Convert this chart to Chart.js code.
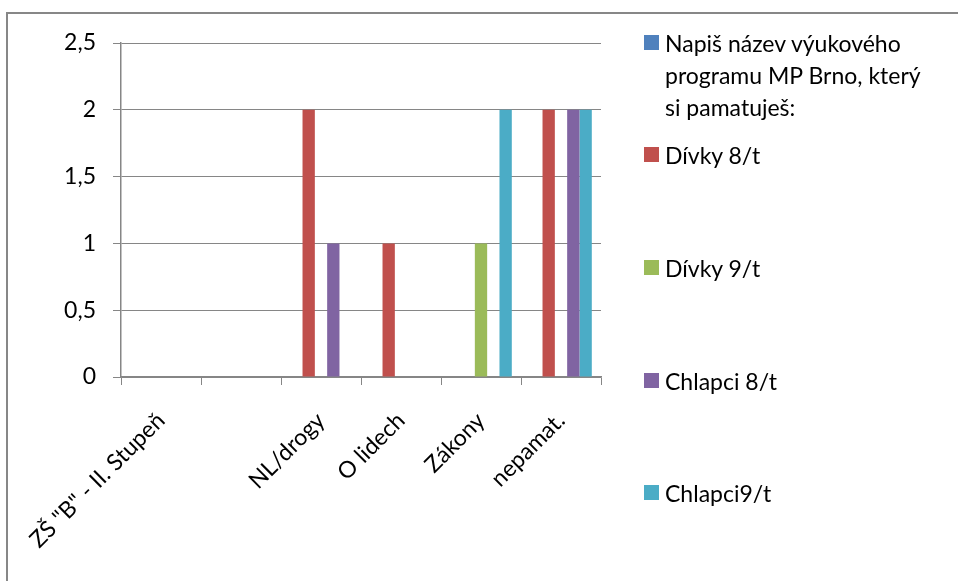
<!DOCTYPE html>
<html lang="cs">
<head>
  <meta charset="UTF-8" />
  <title>Výukové programy MP Brno</title>
  <style>
    * { margin: 0; padding: 0; box-sizing: border-box; }
    body {
      background: #ffffff;
      width: 958px;
      height: 581px;
      overflow: hidden;
      position: relative;
      font-family: 'Lato', 'Noto Sans', sans-serif;
      color: #000;
    }
    /* outer chart frame, only top and left edges are visible */
    .frame {
      position: absolute;
      left: 6px;
      top: 12px;
      width: 1000px;
      height: 640px;
      border-left: 2px solid #878787;
      border-top: 2px solid #878787;
    }
    .chart-box {
      position: absolute;
      left: 0;
      top: 0;
      width: 958px;
      height: 581px;
    }
    #legend {
      position: absolute;
      left: 644px;
      top: 0;
      width: 310px;
    }
    .legend-item {
      position: absolute;
      left: 0;
      display: flex;
      align-items: flex-start;
      font-size: 23px;
      line-height: 32px;
      white-space: normal;
    }
    .legend-item .box {
      width: 15px;
      height: 15px;
      margin-top: 8px;
      margin-right: 6px;
      flex: none;
    }
    .legend-item .txt { width: 262px; }
  </style>
</head>
<body>
  <div class="frame"></div>
  <div class="chart-box"><canvas id="chart" width="958" height="581"></canvas></div>
  <div id="legend"></div>

  <script src="https://cdn.jsdelivr.net/npm/chart.js"></script>
  <script>
    // categories (second one is empty in the source sheet)
    const categories = ['ZŠ "B" - II. Stupeň', '', 'NL/drogy', 'O lidech', 'Zákony', 'nepamat.'];

    const seriesNames = [
      'Napiš název výukového programu MP Brno, který si pamatuješ:',
      'Dívky 8/t',
      'Dívky 9/t',
      'Chlapci 8/t',
      'Chlapci9/t'
    ];
    const seriesColors = ['#4F81BD', '#C0504D', '#9BBB59', '#8064A2', '#4BACC6'];

    const napis     = [null, null, null, null, null, null];
    const divky8    = [null, null, 2, 1, null, 2];
    const divky9    = [null, null, null, null, 1, null];
    const chlapci8  = [null, null, 1, null, null, 2];
    const chlapci9  = [null, null, null, null, 2, 2];

    const yTickLabels = ['0', '0,5', '1', '1,5', '2', '2,5'];

    // legend entry tops (layout only)
    const legendTops = [27, 139, 252, 365, 477];

    const seriesValues = [napis, divky8, divky9, chlapci8, chlapci9];
    const gridColor = '#868686';
    const font = { family: "'Lato', 'Noto Sans', sans-serif", size: 23 };

    const datasets = seriesNames.map((name, i) => ({
      label: name,
      data: seriesValues[i],
      backgroundColor: seriesColors[i],
      borderWidth: 0,
      categoryPercentage: 0.77,
      barPercentage: 1.0
    }));

    new Chart(document.getElementById('chart').getContext('2d'), {
      type: 'bar',
      data: { labels: categories, datasets: datasets },
      options: {
        responsive: false,
        animation: false,
        events: [],
        layout: { padding: { top: 43, right: 357, left: 0, bottom: 0 } },
        plugins: {
          legend: { display: false },
          tooltip: { enabled: false }
        },
        scales: {
          x: {
            offset: true,
            grid: {
              offset: true,
              drawOnChartArea: false,
              drawTicks: true,
              tickLength: 8,
              color: gridColor,
              lineWidth: 1
            },
            border: { color: gridColor, width: 1.5 },
            ticks: {
              color: '#000',
              font: font,
              minRotation: 45,
              maxRotation: 45,
              autoSkip: false,
              padding: 22
            },
            afterFit: (scale) => { scale.height = 581 - 377; }
          },
          y: {
            min: 0,
            max: 2.5,
            ticks: {
              stepSize: 0.5,
              color: '#000',
              font: font,
              padding: 17,
              callback: (value, index) => yTickLabels[index]
            },
            grid: {
              color: gridColor,
              lineWidth: 1,
              tickLength: 8
            },
            border: { color: gridColor, width: 1.5 },
            afterFit: (scale) => { scale.width = 121; }
          }
        }
      }
    });

    // legend as real text on the right
    const legendEl = document.getElementById('legend');
    seriesNames.forEach((name, i) => {
      const item = document.createElement('div');
      item.className = 'legend-item';
      item.style.top = legendTops[i] + 'px';
      const box = document.createElement('span');
      box.className = 'box';
      box.style.background = seriesColors[i];
      const txt = document.createElement('span');
      txt.className = 'txt';
      txt.textContent = name;
      item.appendChild(box);
      item.appendChild(txt);
      legendEl.appendChild(item);
    });
  </script>
</body>
</html>
